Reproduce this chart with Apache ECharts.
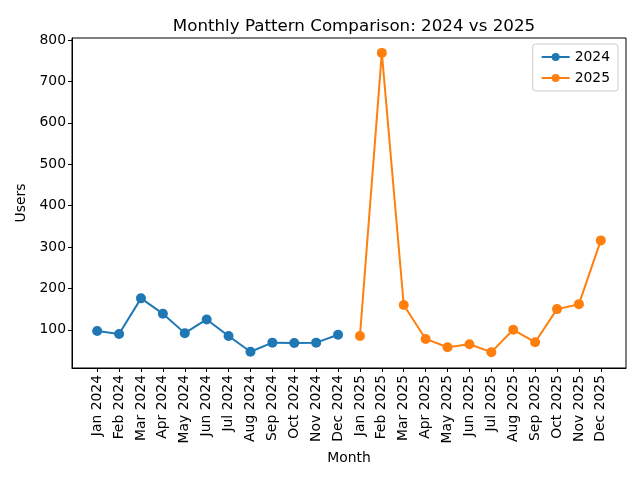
<!DOCTYPE html>
<html>
<head>
<meta charset="utf-8">
<script src="https://cdn.jsdelivr.net/npm/echarts@6/dist/echarts.min.js"></script>
<style>html,body{margin:0;padding:0;background:#fff;}#c{width:640px;height:480px;}</style>
</head>
<body>
<div id="c"></div>
<script>
var months = ["Jan 2024","Feb 2024","Mar 2024","Apr 2024","May 2024","Jun 2024","Jul 2024","Aug 2024","Sep 2024","Oct 2024","Nov 2024","Dec 2024",
              "Jan 2025","Feb 2025","Mar 2025","Apr 2025","May 2025","Jun 2025","Jul 2025","Aug 2025","Sep 2025","Oct 2025","Nov 2025","Dec 2025"];
var users2024 = [97, 90, 176, 139, 92, 125, 85, 47, 69, 68, 69, 88];
var users2025 = [85, 769, 160, 78, 58, 65, 46, 100, 70, 150, 162, 316];
var yTicks = [100, 200, 300, 400, 500, 600, 700, 800];

var idx = months.map(function(_, i){ return i; });
var d2024 = users2024.map(function(v, i){ return [i, v]; });
var d2025 = users2025.map(function(v, i){ return [i + 12, v]; });

var font = 'DejaVu Sans';
var chart = echarts.init(document.getElementById('c'), null, {renderer: 'canvas'});
chart.setOption({
  animation: false,
  backgroundColor: '#fff',
  title: {
    text: 'Monthly Pattern Comparison: 2024 vs 2025',
    left: 349, top: 13, textAlign: 'center',
    textStyle: {fontFamily: font, fontSize: 16.7, fontWeight: 'normal', color: '#000'}
  },
  grid: {left: 72, right: 14, top: 38, bottom: 112, show: true, borderColor: '#000', borderWidth: 1, backgroundColor: 'transparent'},
  legend: {
    orient: 'vertical', right: 22, top: 44,
    data: ['2024', '2025'],
    backgroundColor: '#fff', borderColor: '#cccccc', borderWidth: 1, borderRadius: 3,
    padding: [6, 8, 6, 8], itemGap: 7, itemWidth: 28, itemHeight: 10,
    textStyle: {fontFamily: font, fontSize: 13.9, color: '#000'}
  },
  xAxis: {
    type: 'value', min: -1.15, max: 24.15,
    name: 'Month', nameLocation: 'middle', nameGap: 83,
    nameTextStyle: {fontFamily: font, fontSize: 13.9, color: '#000'},
    axisLine: {show: true, onZero: false, lineStyle: {color: '#000', width: 1}},
    axisTick: {show: true, customValues: idx, length: 4, lineStyle: {color: '#000'}},
    axisLabel: {show: true, customValues: idx, rotate: 90, margin: 7,
      fontFamily: font, fontSize: 13.9, color: '#000',
      formatter: function(v){ return months[Math.round(v)] || ''; }},
    splitLine: {show: false}
  },
  yAxis: {
    type: 'value', min: 7.75, max: 805,
    name: 'Users', nameLocation: 'middle', nameGap: 44,
    nameTextStyle: {fontFamily: font, fontSize: 13.9, color: '#000'},
    axisLine: {show: true, onZero: false, lineStyle: {color: '#000', width: 1}},
    axisTick: {show: true, customValues: yTicks, length: 4, lineStyle: {color: '#000'}},
    axisLabel: {show: true, customValues: yTicks, margin: 6, fontFamily: font, fontSize: 13.9, color: '#000'},
    splitLine: {show: false}
  },
  series: [
    {name: '2024', type: 'line', data: d2024, symbol: 'circle', symbolSize: 10,
     itemStyle: {color: '#1f77b4'}, lineStyle: {width: 2, color: '#1f77b4'}},
    {name: '2025', type: 'line', data: d2025, symbol: 'circle', symbolSize: 10,
     itemStyle: {color: '#ff7f0e'}, lineStyle: {width: 2, color: '#ff7f0e'}}
  ]
});
</script>
</body>
</html>
